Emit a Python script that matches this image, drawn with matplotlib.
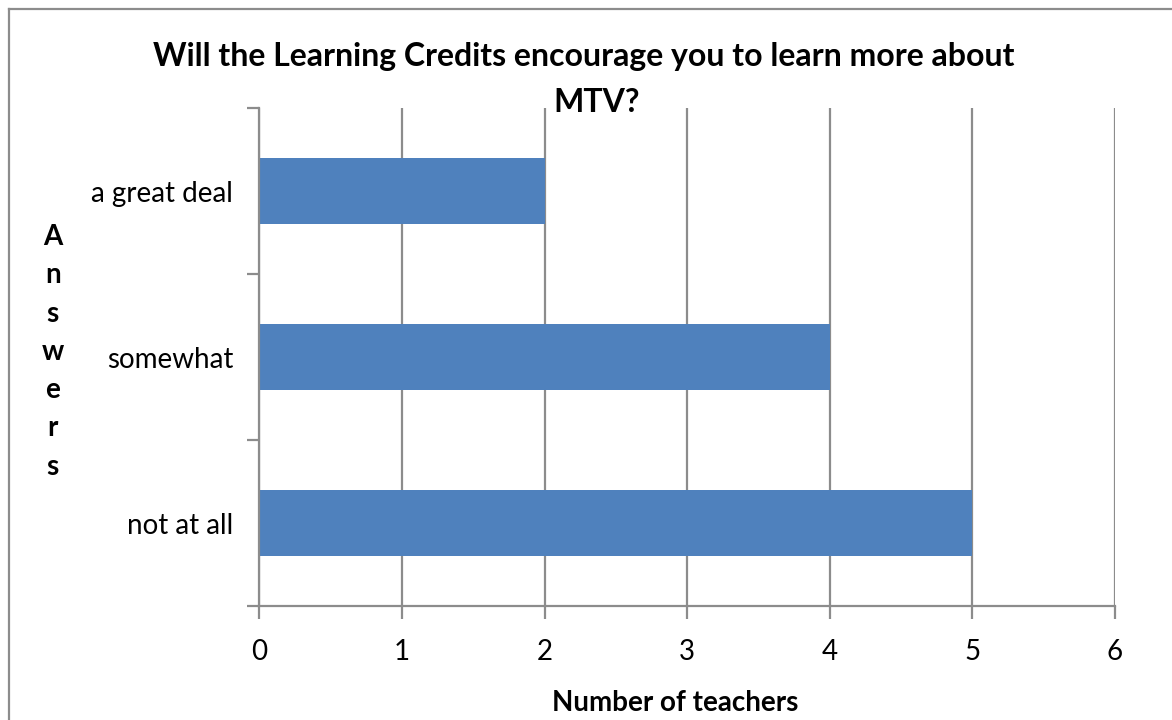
import matplotlib
matplotlib.use("Agg")
import matplotlib.pyplot as plt
from matplotlib.lines import Line2D

# survey answers and how many teachers picked each
answers = ["not at all", "somewhat", "a great deal"]
teachers = [5, 4, 2]
x_ticks = [0, 1, 2, 3, 4, 5, 6]

plt.rcParams["font.family"] = ["Lato", "DejaVu Sans"]
grey = "#8c8c8c"
bar_color = "#4f81bd"

fig = plt.figure(figsize=(11.72, 7.2), dpi=100)
ax = fig.add_axes([0.2214, 0.1583, 0.7300, 0.6917])

pos = list(range(len(answers)))
ax.barh(pos, teachers, height=0.4, color=bar_color, zorder=3)

ax.set_xlim(0, 6)
ax.set_ylim(-0.5, len(answers) - 0.5)
ax.set_xticks(x_ticks)
ax.set_xticklabels([str(t) for t in x_ticks], fontsize=20)

# category labels centred on bars, tick marks at the boundaries
ax.set_yticks(pos)
ax.set_yticklabels(answers, fontsize=20)
ax.tick_params(axis="y", which="major", length=0, pad=19)
ax.set_yticks([p - 0.5 for p in pos] + [len(answers) - 0.5], minor=True)
ax.tick_params(axis="y", which="minor", length=9, width=1.6, color=grey, direction="out")
ax.tick_params(axis="x", length=9, width=1.6, color=grey, direction="out", pad=15)

ax.grid(axis="x", color=grey, linewidth=1.6, zorder=0)
for side in ["top", "right"]:
    ax.spines[side].set_visible(False)
for side in ["left", "bottom"]:
    ax.spines[side].set_color(grey)
    ax.spines[side].set_linewidth(1.6)
    ax.spines[side].set_zorder(4)

fig.text(0.498, 0.921, "Will the Learning Credits encourage you to learn more about",
         ha="center", va="center", fontsize=23, fontweight="bold")
fig.text(0.509, 0.858, "MTV?", ha="center", va="center", fontsize=23, fontweight="bold")

fig.text(0.576, 0.024, "Number of teachers", ha="center", va="center",
         fontsize=20, fontweight="bold")

# vertical axis title written one letter per line
label = "Answers"
for i, ch in enumerate(label):
    fig.text(0.045, 1 - (237 + i * 38.3) / 720, ch, ha="center", va="center",
             fontsize=20, fontweight="bold")

# chart area border
fig.add_artist(Line2D([9 / 1172, 9 / 1172], [0, 1 - 9 / 720], color=grey, linewidth=1.6))
fig.add_artist(Line2D([9 / 1172, 1], [1 - 9 / 720, 1 - 9 / 720], color=grey, linewidth=1.6))

fig.savefig("out.png", dpi=100)
